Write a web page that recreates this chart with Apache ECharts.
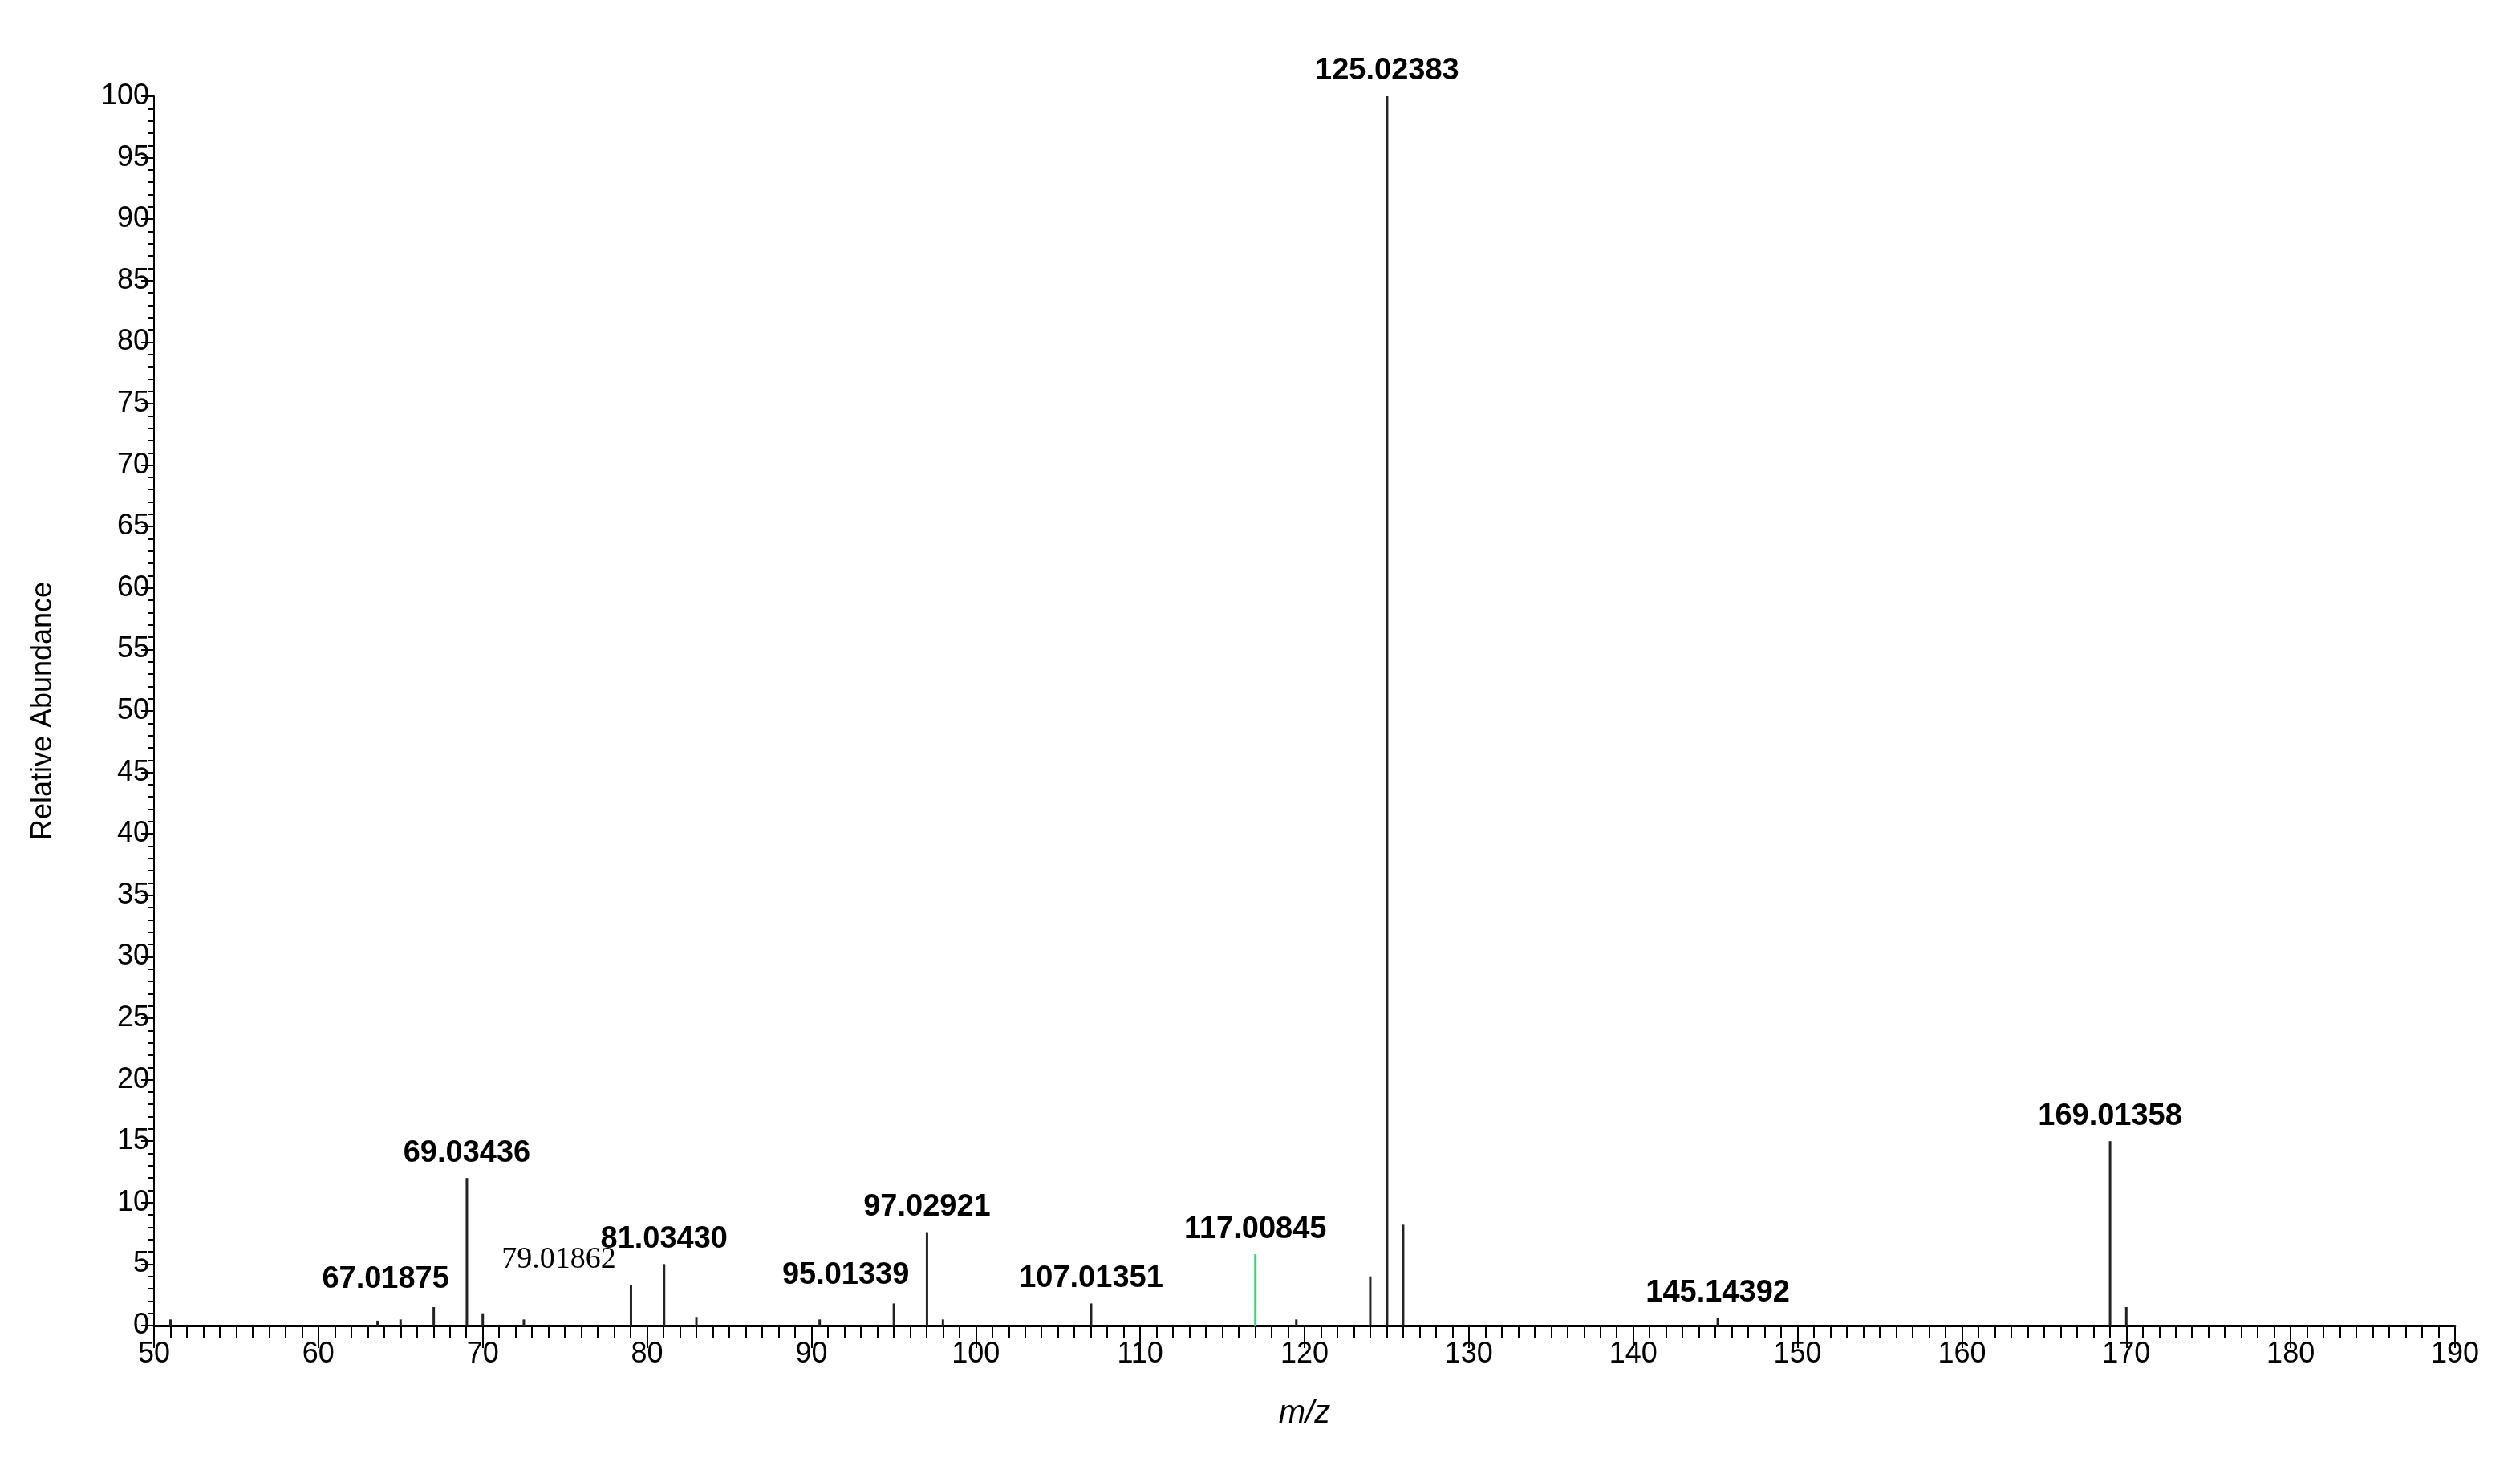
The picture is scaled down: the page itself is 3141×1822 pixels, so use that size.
<!DOCTYPE html>
<html>
<head>
<meta charset="utf-8">
<script src="https://cdn.jsdelivr.net/npm/echarts@6/dist/echarts.min.js"></script>
</head>
<body style="margin:0;background:#fff;">
<div id="main" style="width:3141px;height:1822px;"></div>
<script>
var mz        = [51.0, 63.6, 65.0, 67.01875, 69.03436, 70.0, 72.5, 79.01862, 81.03430, 83.0, 90.5, 95.01339, 97.02921, 98.0, 107.01351, 117.00845, 119.5, 124.0, 125.02383, 126.0, 145.14392, 169.01358, 170.0];
var intensity = [0.5, 0.4, 0.5, 1.5, 12.0, 1.0, 0.5, 3.3, 5.0, 0.7, 0.5, 1.8, 7.6, 0.5, 1.8, 5.8, 0.5, 4.0, 100, 8.2, 0.6, 15.0, 1.5];
var labelled  = [false, false, false, true, true, false, false, true, true, false, false, true, true, false, true, true, false, false, true, false, true, true, false];

var chart = echarts.init(document.getElementById('main'));
var data = mz.map(function (m, i) {
  var d = { value: [m, intensity[i]] };
  if (labelled[i]) {
    d.label = { show: true, formatter: m.toFixed(5) };
    if (m === 67.01875 || m === 95.01339) d.label.offset = [-60, -4];
    if (m === 79.01862) d.label = { show: true, formatter: m.toFixed(5), offset: [-90, 0],
      fontFamily: 'Liberation Serif', fontWeight: 'normal', fontSize: 38 };
  }
  if (m === 117.00845) d.itemStyle = { color: '#3fd07a' };
  return d;
});

chart.setOption({
  animation: false,
  grid: { left: 192, right: 81, top: 120, bottom: 170 },
  xAxis: {
    type: 'value', min: 50, max: 190, interval: 10,
    name: 'm/z', nameLocation: 'middle', nameGap: 90,
    nameTextStyle: { fontStyle: 'italic', fontSize: 40, fontFamily: 'Liberation Sans', color: '#000' },
    axisLine: { lineStyle: { color: '#000', width: 3 } },
    axisTick: { length: 28, lineStyle: { color: '#000', width: 2 } },
    minorTick: { show: true, splitNumber: 10, length: 16, lineStyle: { color: '#000', width: 2 } },
    axisLabel: { fontSize: 36, fontFamily: 'Liberation Sans', color: '#000', margin: 18 },
    splitLine: { show: false }
  },
  yAxis: {
    type: 'value', min: 0, max: 100, interval: 5,
    name: 'Relative Abundance', nameLocation: 'middle', nameGap: 120,
    nameTextStyle: { fontSize: 36, fontFamily: 'Liberation Sans', color: '#000' },
    axisLine: { show: true, lineStyle: { color: '#000', width: 2 } },
    axisTick: { length: 16, lineStyle: { color: '#000', width: 2 } },
    minorTick: { show: true, splitNumber: 5, length: 8, lineStyle: { color: '#000', width: 2 } },
    axisLabel: { fontSize: 36, fontFamily: 'Liberation Sans', color: '#000', margin: 6 },
    splitLine: { show: false }
  },
  series: [{
    type: 'bar',
    barWidth: 3,
    itemStyle: { color: '#222' },
    label: { show: false, position: 'top', distance: 12, fontSize: 38, fontWeight: 'bold', fontFamily: 'Liberation Sans', color: '#000' },
    data: data
  }]
});
</script>
</body>
</html>
